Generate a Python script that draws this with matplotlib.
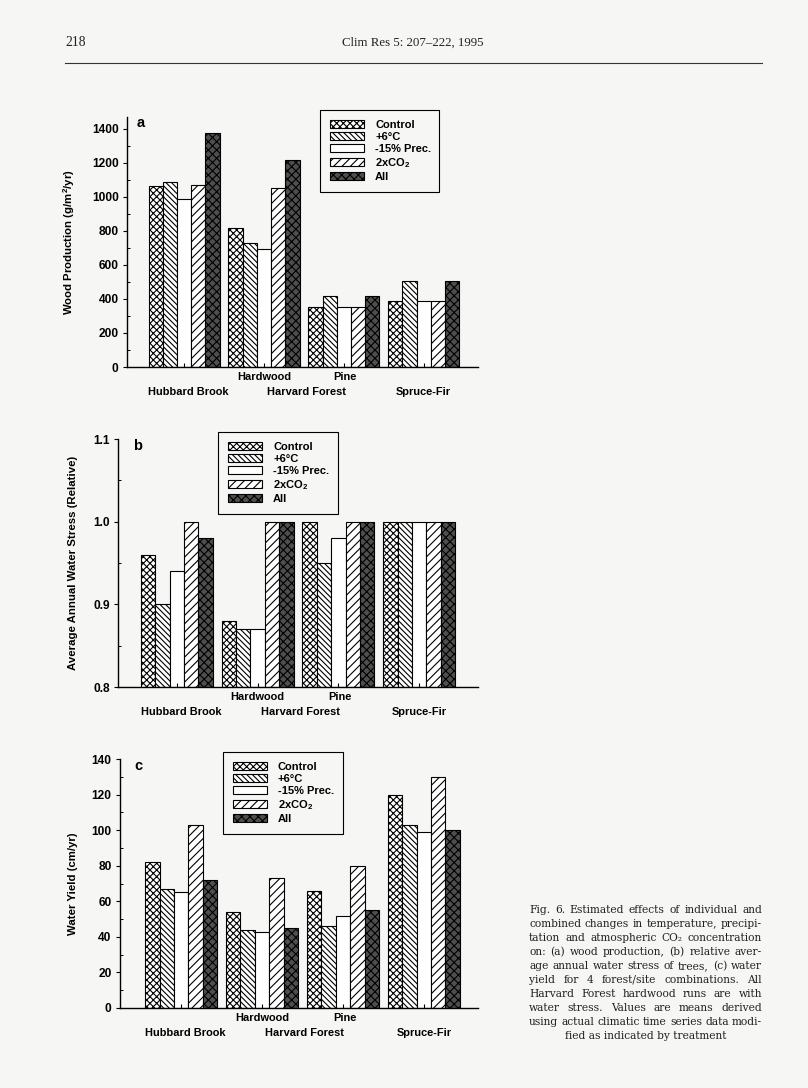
import matplotlib
matplotlib.use('Agg')
import matplotlib.pyplot as plt
import numpy as np
from matplotlib.ticker import MultipleLocator, FixedLocator

plt.rcParams['font.family'] = ['Liberation Sans', 'DejaVu Sans']
plt.rcParams['font.weight'] = 'bold'
plt.rcParams['mathtext.default'] = 'regular'
plt.rcParams['hatch.linewidth'] = 0.8

# data
sites = ['Hubbard Brook', 'Hardwood', 'Pine', 'Spruce-Fir']
treatments = ['Control', '+6°C', '-15% Prec.', '2xCO$_2$', 'All']

wood = {
    'Control':    [1065, 820, 355, 390],
    '+6°C':       [1085, 730, 415, 505],
    '-15% Prec.': [990, 695, 355, 390],
    '2xCO$_2$':   [1070, 1050, 355, 390],
    'All':        [1375, 1215, 420, 505],
}
stress = {
    'Control':    [0.96, 0.88, 1.00, 1.00],
    '+6°C':       [0.90, 0.87, 0.95, 1.00],
    '-15% Prec.': [0.94, 0.87, 0.98, 1.00],
    '2xCO$_2$':   [1.00, 1.00, 1.00, 1.00],
    'All':        [0.98, 1.00, 1.00, 1.00],
}
yield_ = {
    'Control':    [82, 54, 66, 120],
    '+6°C':       [67, 44, 46, 103],
    '-15% Prec.': [65, 43, 52, 99],
    '2xCO$_2$':   [103, 73, 80, 130],
    'All':        [72, 45, 55, 100],
}

# x labels: text, x position (group units), row (0 upper, 1 lower)
xlab_text = ['Hubbard Brook', 'Hardwood', 'Harvard Forest', 'Pine', 'Spruce-Fir']
xlab_pos = [0.05, 1.0, 1.53, 2.02, 3.0]
xlab_row = [1, 0, 1, 0, 1]

styles = {
    'Control':    dict(facecolor='white', hatch='xxxxx'),
    '+6°C':       dict(facecolor='white', hatch='\\\\\\\\\\\\'),
    '-15% Prec.': dict(facecolor='white', hatch=''),
    '2xCO$_2$':   dict(facecolor='white', hatch='////'),
    'All':        dict(facecolor='#4e4e4e', hatch='xxxx'),
}

W, H = 808, 1088
BG = '#f6f6f4'

def rect(x0, x1, ytop, ybot):
    return [x0 / W, 1 - ybot / H, (x1 - x0) / W, (ybot - ytop) / H]

fig = plt.figure(figsize=(W / 100, H / 100), dpi=100, facecolor=BG)

def panel(box, data, bottom, ylim, major, minor, ylabel, xlim, letter, letter_xy,
          ylab_x, leg_box, ticklabels=None):
    ax = fig.add_axes(rect(*box))
    ax.set_facecolor(BG)
    bw = 0.178
    x = np.arange(len(sites))
    for i, t in enumerate(treatments):
        vals = np.array(data[t])
        ax.bar(x + (i - 2) * bw, vals - bottom, bw, bottom=bottom, edgecolor='black',
               linewidth=0.8, label=t, **styles[t])
    ax.set_xlim(*xlim)
    ax.set_ylim(*ylim)
    for s in ['top', 'right']:
        ax.spines[s].set_visible(False)
    for s in ['left', 'bottom']:
        ax.spines[s].set_linewidth(1.0)
    ax.yaxis.set_major_locator(MultipleLocator(major))
    ax.yaxis.set_minor_locator(MultipleLocator(minor))
    if ticklabels is not None:
        ax.yaxis.set_major_locator(FixedLocator(ticklabels[0]))
        ax.set_yticklabels(ticklabels[1])
    ax.tick_params(axis='y', which='major', direction='out', length=3, width=0.8,
                   pad=3, labelsize=8.6)
    ax.tick_params(axis='y', which='minor', direction='in', length=2, width=0.7)
    ax.set_xticks(x)
    ax.set_xticklabels([])
    ax.tick_params(axis='x', direction='in', length=3, width=0.8)
    for lbl in ax.get_yticklabels():
        lbl.set_fontweight('bold')
    ax.set_ylabel(ylabel, fontsize=8.2, fontweight='bold')
    ax.yaxis.set_label_coords(ylab_x, 0.5)
    for txt, pos, row in zip(xlab_text, xlab_pos, xlab_row):
        ax.annotate(txt, xy=(pos, 0), xycoords=('data', 'axes fraction'),
                    xytext=(0, -7.5 if row == 0 else -18), textcoords='offset points',
                    ha='center', va='center', fontsize=7.9, fontweight='bold')
    fig.text(letter_xy[0] / W, 1 - letter_xy[1] / H, letter, fontsize=10.5,
             fontweight='bold', ha='center', va='center')
    lx0, lx1, ly0, ly1 = leg_box
    leg = ax.legend(loc='upper left', bbox_to_anchor=(lx0 / W, 1 - ly1 / H,
                    (lx1 - lx0) / W, (ly1 - ly0) / H),
                    bbox_transform=fig.transFigure, mode='expand', borderaxespad=0,
                    fancybox=False, edgecolor='black', framealpha=1, facecolor=BG,
                    handlelength=3.1, handleheight=0.7,
                    handletextpad=0.95, labelspacing=0.18, borderpad=0.9,
                    prop={'weight': 'bold', 'size': 8.0})
    leg.get_frame().set_linewidth(0.8)
    return ax

panel((127, 478, 117, 367), wood, 0, (0, 1470), 200, 100,
      'Wood Production (g/m$^2$/yr)', (-0.715, 3.68), 'a', (141, 123), -0.142,
      (320, 439, 110, 197))
panel((118, 478, 439, 687), stress, 0.8, (0.8, 1.1), 0.1, 0.05,
      'Average Annual Water Stress (Relative)', (-0.73, 3.73), 'b', (138, 446), -0.111,
      (218, 338, 432, 517),
      ticklabels=([0.8, 0.9, 1.0, 1.1], ['0.8', '0.9', '1.0', '1.1']))
panel((120, 478, 759, 1008), yield_, 0, (0, 140), 20, 10,
      'Water Yield (cm/yr)', (-0.757, 3.67), 'c', (138, 766), -0.117,
      (223, 343, 752, 837))

# page header
fig.text(65 / W, 1 - 43 / H, '218', family='Liberation Serif', fontweight='normal',
         fontsize=9.8, va='center', ha='left', color='#222222')
fig.text(413 / W, 1 - 43 / H, 'Clim Res 5: 207–222, 1995', family='Liberation Serif',
         fontweight='normal', fontsize=9.3, va='center', ha='center', color='#222222')
fig.add_artist(plt.Line2D([65 / W, 762 / W], [1 - 63 / H, 1 - 63 / H],
                          color='#333333', linewidth=0.8))

# caption, justified
caption = [
    'Fig. 6. Estimated effects of individual and',
    'combined changes in temperature, precipi-',
    'tation and atmospheric CO₂ concentration',
    'on: (a) wood production, (b) relative aver-',
    'age annual water stress of trees, (c) water',
    'yield for 4 forest/site combinations. All',
    'Harvard Forest hardwood runs are with',
    'water stress. Values are means derived',
    'using actual climatic time series data modi-',
    'fied as indicated by treatment',
]
cx0, cx1, cy0, cdy = 529, 762, 910, 14.0
renderer = fig.canvas.get_renderer()
for i, line in enumerate(caption):
    y = 1 - (cy0 + i * cdy) / H
    kw = dict(family='DejaVu Serif', fontweight='normal', fontsize=7.7,
              va='center', color='#222222')
    if i == len(caption) - 1:
        fig.text((cx0 + cx1) / 2 / W, y, line, ha='center', **kw)
        continue
    words = line.split()
    texts = [fig.text(0, y, w, ha='left', **kw) for w in words]
    widths = [t.get_window_extent(renderer).width for t in texts]
    gap = (cx1 - cx0 - sum(widths)) / (len(words) - 1)
    xp = cx0
    for t, wd in zip(texts, widths):
        t.set_x(xp / W)
        xp += wd + gap

fig.savefig('out.png', dpi=100, facecolor=BG)
